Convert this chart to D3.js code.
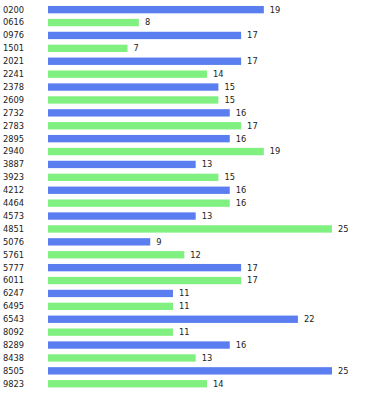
<!DOCTYPE html>
<html><head><meta charset="utf-8">
<script src="https://cdn.jsdelivr.net/npm/d3@7"></script>
<style>body{margin:0;background:#fff}svg text{font-family:"DejaVu Sans",Verdana,sans-serif;font-size:8.3px;fill:#222}</style>
</head><body><svg id="c" width="366" height="400"></svg>
<script>
const categories = ["0200","0616","0976","1501","2021","2241","2378","2609","2732","2783","2895","2940","3887","3923","4212","4464","4573","4851","5076","5761","5777","6011","6247","6495","6543","8092","8289","8438","8505","9823"];
const values = [19,8,17,7,17,14,15,15,16,17,16,19,13,15,16,16,13,25,9,12,17,17,11,11,22,11,16,13,25,14];
const colors = ["#5a7ef0","#80f080"];

const svg = d3.select("#c");
const x = d3.scaleLinear().domain([0,25]).range([48,332]);
const y = d3.scaleBand().domain(categories).range([3.2,390.2]).paddingInner(0.43).paddingOuter(0.215);
const data = categories.map((c,i)=>({c, v:values[i], i}));

svg.selectAll("rect").data(data).join("rect")
  .attr("x", x(0)).attr("y", d=>y(d.c))
  .attr("width", d=>x(d.v)-x(0)).attr("height", y.bandwidth())
  .attr("fill", d=>colors[d.i%2]);

svg.selectAll("text.cat").data(data).join("text").attr("class","cat")
  .attr("x",3).attr("y", d=>y(d.c)+y.bandwidth()/2).attr("dy","0.35em")
  .text(d=>d.c);

svg.selectAll("text.val").data(data).join("text").attr("class","val")
  .attr("x", d=>x(d.v)+6).attr("y", d=>y(d.c)+y.bandwidth()/2).attr("dy","0.35em")
  .text(d=>d.v);
</script></body></html>
